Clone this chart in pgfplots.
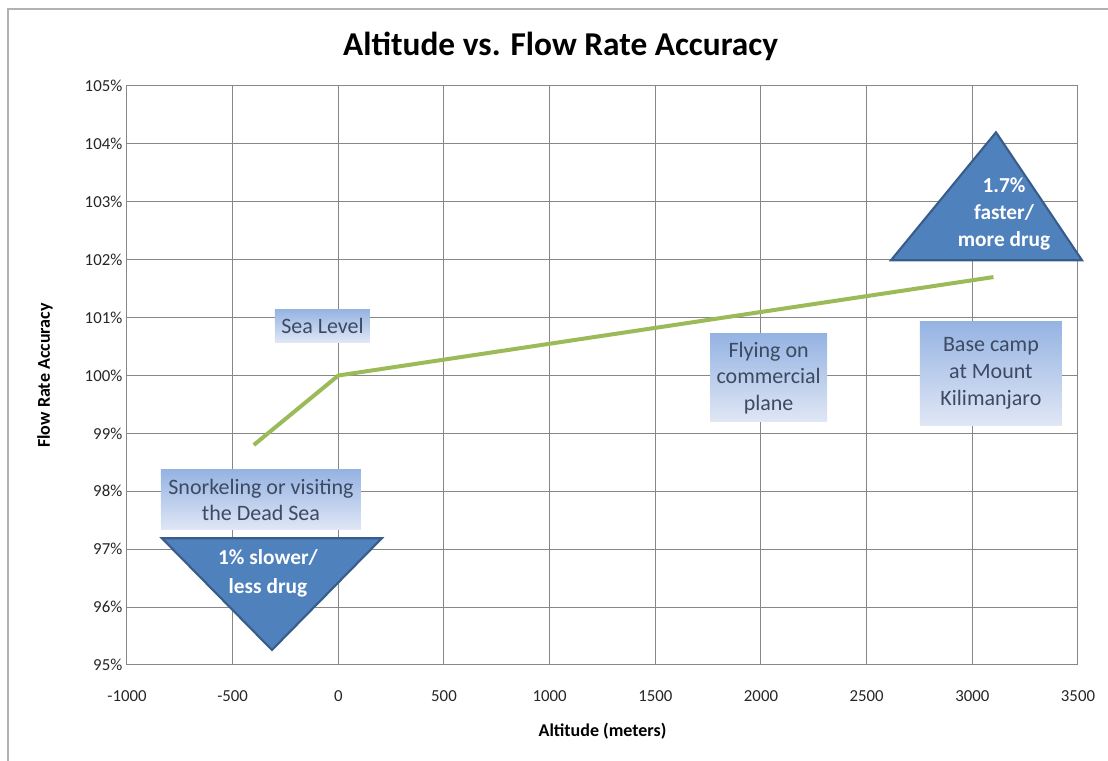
\documentclass[border=0pt]{standalone}
\usepackage{fontspec}
\setmainfont{Carlito}
\usepackage{pgfplots}
\pgfplotsset{compat=1.18}
\definecolor{gridgray}{RGB}{135,135,135}
\definecolor{linegreen}{RGB}{155,187,89}
\definecolor{triblue}{RGB}{79,129,189}
\definecolor{triedge}{RGB}{56,93,138}
\definecolor{boxtop}{RGB}{149,179,226}
\definecolor{boxbot}{RGB}{224,231,245}
\definecolor{boxtext}{RGB}{60,74,98}
\tikzset{
  box/.style={top color=boxtop, bottom color=boxbot, draw=none, text=boxtext,
    font=\fontsize{16.5}{20}\selectfont, align=center, inner sep=0pt},
  tri/.style={fill=triblue, draw=triedge, line width=1.6pt, line join=miter},
  tritext/.style={text=white, font=\bfseries\fontsize{16}{20.5}\selectfont, align=center},
}
\begin{document}
\begin{tikzpicture}
\useasboundingbox (-95.25pt,-72pt) rectangle (735.75pt,498.75pt);
\draw[gray!60, line width=0.9pt] (-89.25pt,-72pt) -- (-89.25pt,492pt) -- (735.75pt,492pt);
\begin{axis}[
  at={(0,0)}, anchor=south west,
  scale only axis, width=713.25pt, height=434.25pt,
  xmin=-1000, xmax=3500, ymin=95, ymax=105,
  xtick={-1000,-500,...,3500},
  ytick={95,96,...,105},
  yticklabels={95\%,96\%,97\%,98\%,99\%,100\%,101\%,102\%,103\%,104\%,105\%},
  grid=major,
  major grid style={gridgray, line width=0.75pt},
  axis line style={gridgray, line width=0.75pt},
  tick style={draw=none},
  /pgf/number format/assume math mode=true,
  /pgf/number format/1000 sep={},
  ticklabel style={font=\fontsize{12.6}{14}\selectfont, text=black!85},
  xticklabel style={yshift=-16pt},
  xlabel={Altitude (meters)},
  ylabel={Flow Rate Accuracy},
  label style={font=\bfseries\fontsize{13.5}{16}\selectfont},
  xlabel style={at={(axis description cs:0.5,-0.1151)}, anchor=center},
  ylabel style={at={(axis description cs:-0.0862,0.5)}, anchor=center},
  title={Altitude vs. Flow Rate Accuracy},
  title style={font=\bfseries\fontsize{25}{29}\selectfont, at={(axis description cs:0.456,1)}, anchor=center, yshift=23.5pt},
  clip=false,
]
\addplot[linegreen, line width=3pt, line join=round] coordinates {(-400,98.8) (0,100) (3100,101.7)};

\filldraw[tri] (axis cs:-835,97.19) -- (axis cs:206,97.19) -- (axis cs:-314,95.26) -- cycle;
\filldraw[tri] (axis cs:2615,101.99) -- (axis cs:3519,101.99) -- (axis cs:3112,104.2) -- cycle;

\node[tritext, font=\bfseries\fontsize{16}{21.75}\selectfont] at (axis cs:-333,96.58) {1\% slower/\\less drug};
\node[tritext] at (axis cs:3150,102.79) {1.7\%\\faster/\\more drug};

\node[box, minimum width=71.25pt, minimum height=24.75pt] at (axis cs:-75,100.86) {Sea Level};
\node[box, minimum width=150pt, minimum height=45pt, font=\fontsize{16.5}{19.5}\selectfont] at (axis cs:-366,97.85) {Snorkeling or visiting\\the Dead Sea};
\node[box, minimum width=87.75pt, minimum height=66pt] at (axis cs:2036,99.96) {Flying on\\commercial\\plane};
\node[box, minimum width=106.5pt, minimum height=78pt] at (axis cs:3088,100.04) {Base camp\\at Mount\\Kilimanjaro};
\end{axis}
\end{tikzpicture}
\end{document}
